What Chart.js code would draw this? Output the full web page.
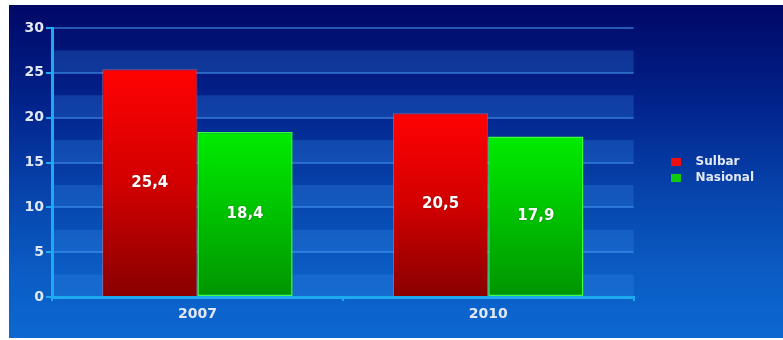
<!DOCTYPE html>
<html>
<head>
<meta charset="utf-8">
<script src="https://cdn.jsdelivr.net/npm/chart.js@4"></script>
<style>
  html, body { margin: 0; padding: 0; background: #fff; }
  #wrap {
    position: absolute; left: 9px; top: 5px; width: 774px; height: 333px;
    background: linear-gradient(to bottom, #000866 0%, #02238c 30%, #0642aa 55%, #0a5cc4 80%, #0c68d0 100%);
  }
</style>
</head>
<body>
<div id="wrap"><canvas id="chart" width="774" height="333"></canvas></div>
<script>
const years = ['2007', '2010'];
const sulbar = [25.4, 20.5];
const nasional = [18.4, 17.9];
const yTicks = { min: 0, max: 30, step: 5 };

const FONT = 'DejaVu Sans, Verdana, sans-serif';
const LABEL = '#e2e8f6';

// vertical gradient running from the top of each bar down to its base
function barGradient(stops) {
  return function (context) {
    const chart = context.chart;
    if (!chart.chartArea || context.raw == null) return stops[0];
    const y = chart.scales.y;
    const g = chart.ctx.createLinearGradient(0, y.getPixelForValue(context.raw), 0, y.getPixelForValue(0));
    stops.forEach((c, i) => g.addColorStop(i / (stops.length - 1), c));
    return g;
  };
}

// small square swatch used as the legend marker
function swatch(color) {
  const c = document.createElement('canvas');
  c.width = 10;
  c.height = 8;
  const g = c.getContext('2d');
  g.fillStyle = color;
  g.fillRect(0, 0, 10, 8);
  return c;
}

// alternating light bands every 2.5 units behind the grid
const bands = {
  id: 'bands',
  beforeDraw(chart) {
    const { ctx, chartArea, scales } = chart;
    ctx.save();
    ctx.fillStyle = 'rgba(55,135,230,0.28)';
    for (let v = yTicks.min; v < yTicks.max; v += yTicks.step) {
      const y1 = scales.y.getPixelForValue(v + yTicks.step / 2);
      const y0 = scales.y.getPixelForValue(v);
      ctx.fillRect(chartArea.left, y1, chartArea.right - chartArea.left, y0 - y1);
    }
    ctx.restore();
  }
};

// keep the legend a little away from the plot and up near the middle
const legendPlace = {
  id: 'legendPlace',
  afterLayout(chart) {
    const lg = chart.legend;
    if (!lg) return;
    const dx = chart.chartArea.right + 24 - lg.left;
    lg.left += dx;
    lg.right += dx;
    lg.top -= 13;
    lg.bottom -= 13;
  }
};

// value written in the middle of each bar
const barValues = {
  id: 'barValues',
  afterDatasetsDraw(chart) {
    const ctx = chart.ctx;
    ctx.save();
    ctx.font = 'bold 15px ' + FONT;
    ctx.fillStyle = '#ffffff';
    ctx.textAlign = 'center';
    ctx.textBaseline = 'middle';
    ctx.shadowColor = 'rgba(0,0,0,0.35)';
    ctx.shadowBlur = 2;
    chart.data.datasets.forEach((ds, i) => {
      chart.getDatasetMeta(i).data.forEach((bar, j) => {
        const label = ds.data[j].toFixed(1).replace('.', ',');
        ctx.fillText(label, bar.x, (bar.y + bar.base) / 2);
      });
    });
    ctx.restore();
  }
};

new Chart(document.getElementById('chart'), {
  type: 'bar',
  data: {
    labels: years,
    datasets: [
      {
        label: 'Sulbar',
        data: sulbar,
        backgroundColor: barGradient(['#ff0202', '#d20000', '#880000']),
        borderColor: 'rgba(255,110,110,0.55)',
        borderWidth: 1,
        borderSkipped: 'bottom'
      },
      {
        label: 'Nasional',
        data: nasional,
        backgroundColor: barGradient(['#00ec00', '#00c000', '#009400']),
        borderColor: '#3cff3c',
        borderWidth: 1.5,
        borderSkipped: false
      }
    ]
  },
  options: {
    responsive: false,
    animation: false,
    layout: { padding: { left: 0, top: 23, right: 43, bottom: 0 } },
    datasets: { bar: { categoryPercentage: 0.655, barPercentage: 1 } },
    scales: {
      x: {
        afterFit(scale) { scale.height = 41; },
        border: { color: '#1eaaf0', width: 3 },
        grid: { drawOnChartArea: false, tickLength: 4, tickColor: '#1eaaf0', lineWidth: 2 },
        ticks: { color: LABEL, font: { family: FONT, size: 14, weight: 'bold' }, padding: 5 }
      },
      y: {
        min: yTicks.min,
        max: yTicks.max,
        afterFit(scale) { scale.width = 43; },
        border: { color: '#1eaaf0', width: 3 },
        grid: { color: 'rgba(70,150,240,0.55)', lineWidth: 2, tickColor: '#1eaaf0', tickLength: 6 },
        ticks: { stepSize: yTicks.step, color: LABEL, font: { family: FONT, size: 14, weight: 'bold' }, padding: 2 }
      }
    },
    plugins: {
      legend: {
        position: 'right',
        labels: {
          color: LABEL,
          font: { family: FONT, size: 12, weight: 'bold' },
          usePointStyle: true,
          pointStyleWidth: 28,
          padding: 4,
          generateLabels(chart) {
            const fills = ['#ee1010', '#10cc10'];
            return chart.data.datasets.map((ds, i) => ({
              text: ds.label,
              pointStyle: swatch(fills[i]),
              fillStyle: fills[i],
              strokeStyle: fills[i],
              lineWidth: 0,
              fontColor: LABEL,
              datasetIndex: i
            }));
          }
        }
      },
      tooltip: { enabled: false }
    }
  },
  plugins: [bands, legendPlace, barValues]
});
</script>
</body>
</html>
